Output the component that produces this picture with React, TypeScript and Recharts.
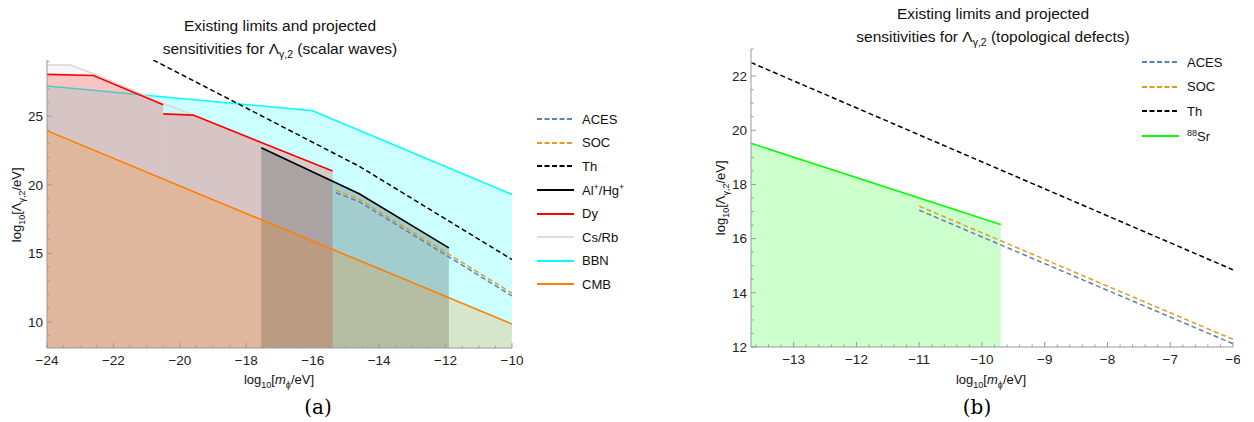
import React from "react";
import { ComposedChart, Area, Line, XAxis, YAxis } from "recharts";

type Pt = { x: number; y: number };

// panel (a): scalar waves, log10 Lambda vs log10 m
const cmbA: Pt[] = [
	{ x: -24, y: 23.95 },
	{ x: -10, y: 9.85 },
];
const bbnA: Pt[] = [
	{ x: -24, y: 27.2 },
	{ x: -16, y: 25.4 },
	{ x: -10, y: 19.3 },
];
const csRbA: Pt[] = [
	{ x: -24, y: 28.74 },
	{ x: -23.3, y: 28.74 },
	{ x: -22.6, y: 28.1 },
	{ x: -20.5, y: 25.95 },
	{ x: -19.6, y: 25.1 },
	{ x: -17.55, y: 23.12 },
];
const dyA1: Pt[] = [
	{ x: -24, y: 28.05 },
	{ x: -22.6, y: 27.97 },
	{ x: -20.5, y: 25.83 },
];
const dyA2: Pt[] = [
	{ x: -20.5, y: 25.17 },
	{ x: -19.6, y: 25.08 },
	{ x: -15.4, y: 21.0 },
];
const alHgA: Pt[] = [
	{ x: -17.55, y: 22.7 },
	{ x: -14.6, y: 19.35 },
	{ x: -11.9, y: 15.4 },
];
const thA: Pt[] = [
	{ x: -20.8, y: 29.1 },
	{ x: -14.6, y: 21.35 },
	{ x: -10, y: 14.55 },
];
const socA: Pt[] = [
	{ x: -15.3, y: 19.6 },
	{ x: -14.6, y: 18.95 },
	{ x: -10, y: 12.1 },
];
const acesA: Pt[] = [
	{ x: -15.3, y: 19.42 },
	{ x: -14.6, y: 18.77 },
	{ x: -10, y: 11.9 },
];

// panel (b): topological defects
const sr88B: Pt[] = [
	{ x: -13.68, y: 19.52 },
	{ x: -9.7, y: 16.52 },
];
const thB: Pt[] = [
	{ x: -13.68, y: 22.5 },
	{ x: -6, y: 14.85 },
];
const socB: Pt[] = [
	{ x: -11, y: 17.2 },
	{ x: -6, y: 12.28 },
];
const acesB: Pt[] = [
	{ x: -11, y: 17.05 },
	{ x: -6, y: 12.12 },
];

const xTicksA = [-24, -22, -20, -18, -16, -14, -12, -10];
const yTicksA = [10, 15, 20, 25];
const xTicksB = [-13, -12, -11, -10, -9, -8, -7, -6];
const yTicksB = [12, 14, 16, 18, 20, 22];

const domXA: [number, number] = [-24, -10];
const domYA: [number, number] = [8.1, 29.1];
const domXB: [number, number] = [-13.68, -6];
const domYB: [number, number] = [12, 23];

const C = {
	aces: "#5e81b5",
	soc: "#e19c24",
	th: "#000000",
	alhg: "#000000",
	dy: "#ff0000",
	csrb: "#d9d9d9",
	bbn: "#00ffff",
	cmb: "#ff8000",
	sr: "#00ff00",
	frame: "#9a9a9a",
};

const FONT = "'Liberation Sans', Arial, sans-serif";

// major ticks plus the minor ones in between (frame ticks, not data)
function withMinor(majors: number[], step: number, dom: [number, number]) {
	const out: number[] = [];
	const start = Math.ceil(dom[0] / step - 1e-9);
	const end = Math.floor(dom[1] / step + 1e-9);
	for (let i = start; i <= end; i++) out.push(+(i * step).toFixed(4));
	majors.forEach(m => {
		if (!out.some(v => Math.abs(v - m) < 1e-6)) out.push(m);
	});
	return out.sort((a, b) => a - b);
}

type Side = "bottom" | "left" | "top" | "right";

function frameTick(side: Side, majors: number[], labels: boolean) {
	return (props: any) => {
		const { x, y, payload } = props;
		const v = payload.value as number;
		const major = majors.some(m => Math.abs(m - v) < 1e-6);
		const len = major ? 5 : 2.5;
		const dx = side === "left" ? len : side === "right" ? -len : 0;
		const dy = side === "bottom" ? -len : side === "top" ? len : 0;
		const txt = String(v).replace("-", "\u2212");
		return (
			<g>
				<line x1={x} y1={y} x2={x + dx} y2={y + dy} stroke={C.frame} strokeWidth={1} />
				{labels && major && side === "bottom" && (
					<text x={x} y={y + 17} textAnchor="middle" fontSize={13.5} fontFamily={FONT} fill="#222">
						{txt}
					</text>
				)}
				{labels && major && side === "left" && (
					<text x={x - 4} y={y} dy="0.35em" textAnchor="end" fontSize={13.5} fontFamily={FONT} fill="#222">
						{txt}
					</text>
				)}
			</g>
		);
	};
}

function region(data: Pt[], color: string, key: string) {
	return (
		<Area
			key={key}
			data={data}
			dataKey="y"
			type="linear"
			stroke={color}
			strokeWidth={1.6}
			fill={color}
			fillOpacity={0.2}
			baseValue="dataMin"
			dot={false}
			activeDot={false}
			isAnimationActive={false}
		/>
	);
}

function dashed(data: Pt[], color: string, key: string) {
	return (
		<Line
			key={key}
			data={data}
			dataKey="y"
			type="linear"
			stroke={color}
			strokeWidth={1.5}
			strokeDasharray="5 3"
			dot={false}
			activeDot={false}
			isAnimationActive={false}
		/>
	);
}

function frameAxes(domX: [number, number], domY: [number, number], xt: number[], yt: number[], xStep: number, yStep: number, yW: number) {
	const xs = withMinor(xt, xStep, domX);
	const ys = withMinor(yt, yStep, domY);
	const common = { type: "number" as const, allowDataOverflow: true, interval: 0 as const, tickSize: 0, tickMargin: 0, tickLine: false, axisLine: { stroke: C.frame } };
	return [
		<XAxis key="xb" dataKey="x" domain={domX} ticks={xs} height={30} tick={frameTick("bottom", xt, true)} {...common} />,
		<XAxis key="xt" xAxisId="top" orientation="top" domain={domX} ticks={xs} height={0} tick={frameTick("top", xt, false)} {...common} />,
		<YAxis key="yl" domain={domY} ticks={ys} width={yW} tick={frameTick("left", yt, true)} {...common} />,
		<YAxis key="yr" yAxisId="right" orientation="right" domain={domY} ticks={ys} width={0} tick={frameTick("right", yt, false)} {...common} />,
	];
}

interface LegendRow {
	label: React.ReactNode;
	color: string;
	dash?: boolean;
}

function LegendBox({ rows, rowH }: { rows: LegendRow[]; rowH: number }) {
	return (
		<div style={{ fontFamily: FONT, fontSize: 13, color: "#111" }}>
			{rows.map((r, i) => (
				<div key={i} style={{ display: "flex", alignItems: "center", height: rowH }}>
					<svg width={37} height={4} style={{ marginRight: 8 }}>
						<line
							x1={0}
							y1={2}
							x2={37}
							y2={2}
							stroke={r.color}
							strokeWidth={1.8}
							strokeDasharray={r.dash ? "5 2.5" : undefined}
						/>
					</svg>
					<span>{r.label}</span>
				</div>
			))}
		</div>
	);
}

const sup = (s: string) => <sup style={{ fontSize: 9 }}>{s}</sup>;

const legendA: LegendRow[] = [
	{ label: "ACES", color: C.aces, dash: true },
	{ label: "SOC", color: C.soc, dash: true },
	{ label: "Th", color: C.th, dash: true },
	{ label: <>Al{sup("+")}/Hg{sup("+")}</>, color: C.alhg },
	{ label: "Dy", color: C.dy },
	{ label: "Cs/Rb", color: "#dddddd" },
	{ label: "BBN", color: C.bbn },
	{ label: "CMB", color: C.cmb },
];

const legendB: LegendRow[] = [
	{ label: "ACES", color: C.aces, dash: true },
	{ label: "SOC", color: C.soc, dash: true },
	{ label: "Th", color: C.th, dash: true },
	{ label: <>{sup("88")}Sr</>, color: C.sr },
];

const abs = (left: number, top: number, extra: React.CSSProperties = {}): React.CSSProperties => ({
	position: "absolute",
	left,
	top,
	...extra,
});

function Title({ cx, top, what }: { cx: number; top: number; what: string }) {
	return (
		<div
			style={abs(cx - 200, top, {
				width: 400,
				textAlign: "center",
				fontFamily: FONT,
				fontSize: 15.5,
				lineHeight: "22.5px",
				color: "#111",
			})}
		>
			<div>Existing limits and projected</div>
			<div>
				sensitivities for Λ<sub style={{ fontSize: 10.5 }}>γ,2</sub> ({what})
			</div>
		</div>
	);
}

function XLabel({ cx, cy }: { cx: number; cy: number }) {
	return (
		<div style={abs(cx - 60, cy - 9, { width: 120, textAlign: "center", fontFamily: FONT, fontSize: 13, color: "#111" })}>
			log<sub style={{ fontSize: 9 }}>10</sub>[<i>m</i>
			<sub style={{ fontSize: 9 }}>ϕ</sub>/eV]
		</div>
	);
}

function YLabel({ cx, cy }: { cx: number; cy: number }) {
	return (
		<div
			style={abs(cx - 60, cy - 9, {
				width: 120,
				textAlign: "center",
				fontFamily: FONT,
				fontSize: 13,
				color: "#111",
				transform: "rotate(-90deg)",
			})}
		>
			log<sub style={{ fontSize: 9 }}>10</sub>[Λ<sub style={{ fontSize: 9 }}>γ,2</sub>/eV]
		</div>
	);
}

function Caption({ cx, text }: { cx: number; text: string }) {
	return (
		<div style={abs(cx - 30, 395, { width: 60, textAlign: "center", fontFamily: "'DejaVu Serif', 'Liberation Serif', serif", fontSize: 20 })}>
			{text}
		</div>
	);
}

export default function App() {
	return (
		<div style={{ position: "absolute", left: 0, top: 0, width: 1254, height: 422, background: "#fff" }}>
			<Title cx={280} top={15} what="scalar waves" />
			<Title cx={993} top={3} what="topological defects" />

			<div style={abs(0, 0)}>
				<ComposedChart width={700} height={400} margin={{ top: 60, right: 188, bottom: 22, left: 0 }}>
					{frameAxes(domXA, domYA, xTicksA, yTicksA, 0.5, 1, 47)}
					{region(bbnA, C.bbn, "bbn")}
					{region(csRbA, C.csrb, "csrb")}
					{region(dyA1, C.dy, "dy1")}
					{region(dyA2, C.dy, "dy2")}
					{region(alHgA, C.alhg, "alhg")}
					{region(cmbA, C.cmb, "cmb")}
					{dashed(thA, C.th, "th")}
					{dashed(socA, C.soc, "soc")}
					{dashed(acesA, C.aces, "aces")}
				</ComposedChart>
			</div>

			<div style={abs(700, 0)}>
				<ComposedChart width={540} height={400} margin={{ top: 49, right: 7, bottom: 23, left: 6 }}>
					{frameAxes(domXB, domYB, xTicksB, yTicksB, 0.2, 0.5, 45)}
					{region(sr88B, C.sr, "sr")}
					{dashed(thB, C.th, "th")}
					{dashed(socB, C.soc, "soc")}
					{dashed(acesB, C.aces, "aces")}
				</ComposedChart>
			</div>

			<div style={abs(537, 107.5)}>
				<LegendBox rows={legendA} rowH={23.6} />
			</div>
			<div style={abs(1142, 50)}>
				<LegendBox rows={legendB} rowH={24.6} />
			</div>

			<XLabel cx={279} cy={381} />
			<XLabel cx={991} cy={381} />
			<YLabel cx={18} cy={205} />
			<YLabel cx={722} cy={198} />
			<Caption cx={318} text="(a)" />
			<Caption cx={977} text="(b)" />
		</div>
	);
}
